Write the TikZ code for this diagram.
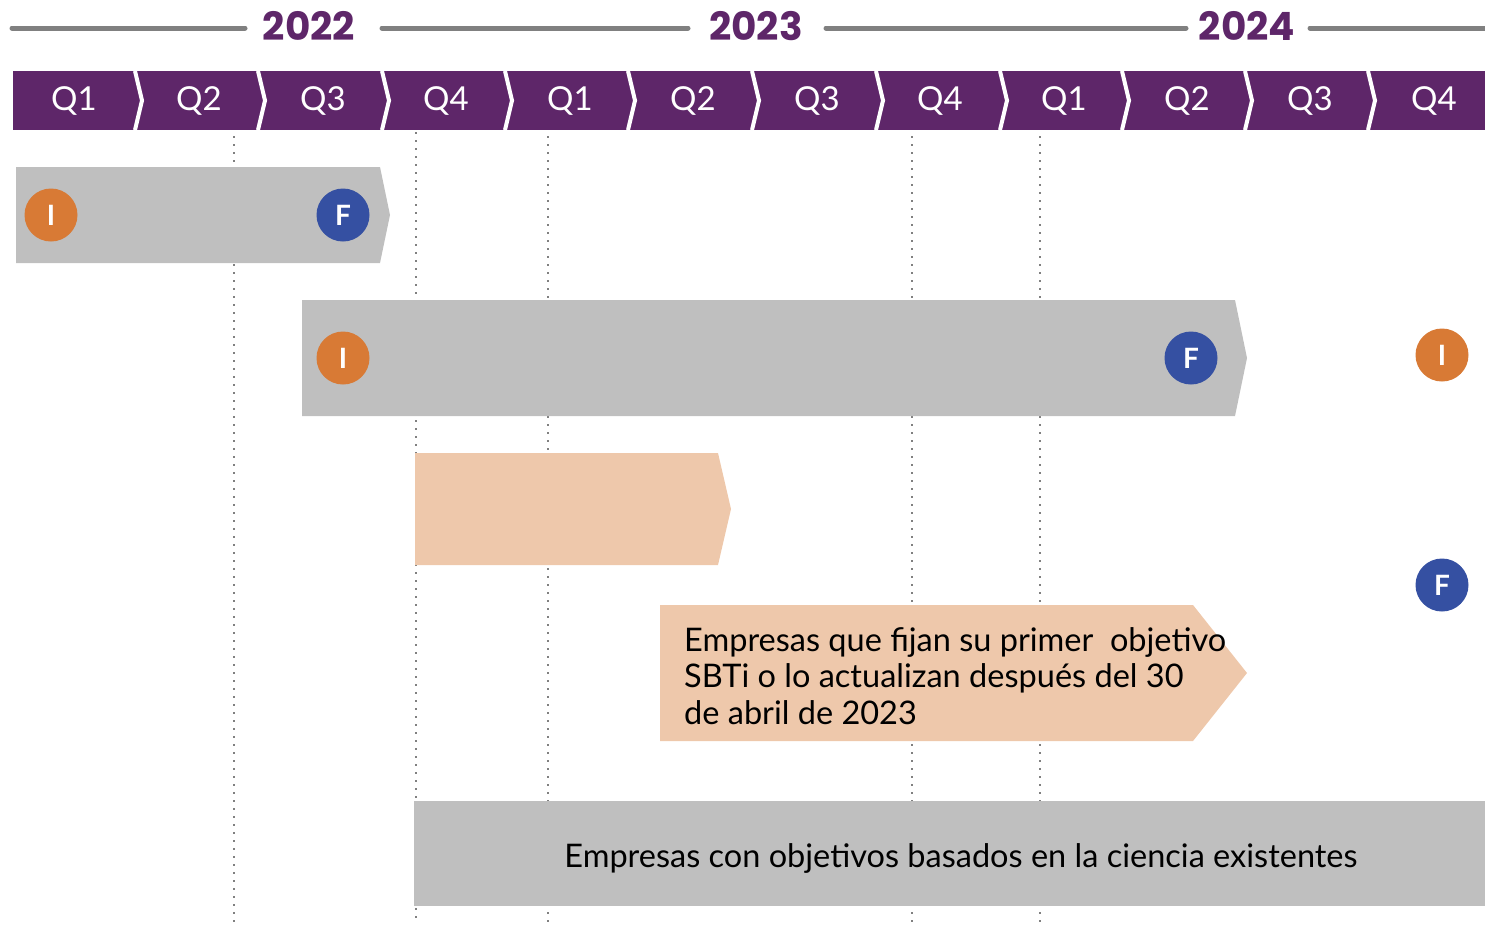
\documentclass[tikz,border=0pt]{standalone}
\usepackage{fontspec}
\setmainfont{Lato}
\newfontfamily\yearfont{Poppins}
\definecolor{plum}{HTML}{5E2669}
\definecolor{rulegray}{HTML}{808080}
\definecolor{bargray}{HTML}{BFBFBF}
\definecolor{peach}{HTML}{EEC8AB}
\definecolor{startorange}{HTML}{D87A35}
\definecolor{endblue}{HTML}{3550A2}
\begin{document}
\begin{tikzpicture}[x=1pt,y=-1pt,
  yearlabel/.style={text=plum,font=\yearfont\bfseries\fontsize{39}{42}\selectfont,inner sep=0pt},
  qlabel/.style={text=white,font=\fontsize{33}{36}\selectfont,inner sep=0pt},
  guide/.style={rulegray,line width=1.6pt,dash pattern=on 1.6pt off 6.4pt},
  sep/.style={white,line width=4pt},
  istart/.style={circle,fill=startorange,text=white,minimum size=53pt,inner sep=0pt,font=\bfseries\fontsize{28}{30}\selectfont},
  fend/.style={circle,fill=endblue,text=white,minimum size=53pt,inner sep=0pt,font=\bfseries\fontsize{28}{30}\selectfont},
  bartext/.style={text=black,inner sep=0pt,font=\fontsize{32.5}{36.5}\selectfont}]
\useasboundingbox (0,0) rectangle (1485,927);
% years
\draw[rulegray,line width=5pt,line cap=round] (12,28) -- (245,28);
\draw[rulegray,line width=5pt,line cap=round] (382,28) -- (688,28);
\draw[rulegray,line width=5pt,line cap=round] (826,28) -- (1186,28);
\draw[rulegray,line width=5pt,line cap=round] (1310,28) -- (1485,28);
\node[yearlabel] (y2022) at (309,26) {2022};
\node[yearlabel] (y2023) at (756,26) {2023};
\node[yearlabel] (y2024) at (1247,26) {2024};
% quarters
\fill[plum] (13,71) rectangle (1485,130);
\draw[sep] (135,71) -- (142,100.5) -- (135,130);
\draw[sep] (258,71) -- (265,100.5) -- (258,130);
\draw[sep] (382,71) -- (389,100.5) -- (382,130);
\draw[sep] (505,71) -- (512,100.5) -- (505,130);
\draw[sep] (628,71) -- (635,100.5) -- (628,130);
\draw[sep] (752,71) -- (759,100.5) -- (752,130);
\draw[sep] (876,71) -- (883,100.5) -- (876,130);
\draw[sep] (1000,71) -- (1007,100.5) -- (1000,130);
\draw[sep] (1122,71) -- (1129,100.5) -- (1122,130);
\draw[sep] (1245,71) -- (1252,100.5) -- (1245,130);
\draw[sep] (1368,71) -- (1375,100.5) -- (1368,130);
\node[qlabel] (q1a) at (74,101) {Q1};
\node[qlabel] (q2a) at (199,101) {Q2};
\node[qlabel] (q3a) at (323,101) {Q3};
\node[qlabel] (q4a) at (446,101) {Q4};
\node[qlabel] (q1b) at (570,101) {Q1};
\node[qlabel] (q2b) at (693,101) {Q2};
\node[qlabel] (q3b) at (817,101) {Q3};
\node[qlabel] (q4b) at (940,101) {Q4};
\node[qlabel] (q1c) at (1064,101) {Q1};
\node[qlabel] (q2c) at (1187,101) {Q2};
\node[qlabel] (q3c) at (1310,101) {Q3};
\node[qlabel] (q4c) at (1434,101) {Q4};
% guides
\draw[guide] (234,136) -- (234,922);
\draw[guide] (416,132) -- (416,922);
\draw[guide] (548,136) -- (548,922);
\draw[guide] (912,136) -- (912,922);
\draw[guide] (1040,136) -- (1040,922);
% bars
\fill[bargray] (16,167) -- (380,167) -- (390,215) -- (380,263) -- (16,263) -- cycle;
\fill[bargray] (302,300) -- (1235,300) -- (1247,358) -- (1235,416) -- (302,416) -- cycle;
\fill[peach] (415,453) -- (718,453) -- (731,509) -- (718,565) -- (415,565) -- cycle;
\fill[peach] (660,605) -- (1193,605) -- (1247,673) -- (1193,741) -- (660,741) -- cycle;
\fill[bargray] (414,801) rectangle (1485,906);
\node[istart] (ione) at (51,215) {I};
\node[fend] (fone) at (343,215) {F};
\node[istart] (itwo) at (343,358) {I};
\node[fend] (ftwo) at (1191,358) {F};
\node[istart] (ithree) at (1442,355) {I};
\node[fend] (fthree) at (1442,585) {F};
\node[bartext,anchor=west,align=left] (newtarget) at (684,676) {Empresas que fijan su primer\ \ objetivo\\SBTi o lo actualizan después del 30\\de abril de 2023};
\node[bartext,anchor=base] (existing) at (961,867) {Empresas con objetivos basados en la ciencia existentes};
\end{tikzpicture}
\end{document}
